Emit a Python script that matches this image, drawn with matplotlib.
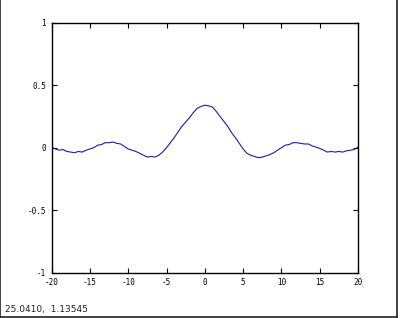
import matplotlib
matplotlib.use("Agg")
import matplotlib.pyplot as plt
from matplotlib.lines import Line2D

x_values = [-20, -19.5, -19, -18.5, -18, -17.5, -17, -16.5, -16, -15.5,
            -15, -14.5, -14, -13.5, -13, -12.5, -12, -11.5, -11, -10.5,
            -10, -9.5, -9, -8.5, -8, -7.5, -7, -6.5, -6, -5.5,
            -5, -4.5, -4, -3.5, -3, -2.5, -2, -1.5, -1, -0.5,
            0, 0.5, 1, 1.5, 2, 2.5, 3, 3.5, 4, 4.5,
            5, 5.5, 6, 6.5, 7, 7.5, 8, 8.5, 9, 9.5,
            10, 10.5, 11, 11.5, 12, 12.5, 13, 13.5, 14, 14.5,
            15, 15.5, 16, 16.5, 17, 17.5, 18, 18.5, 19, 19.5, 20]
y_values = [0.005, -0.01, -0.02, -0.015, -0.03, -0.035, -0.04, -0.03, -0.035, -0.02,
            -0.01, 0.0, 0.02, 0.025, 0.04, 0.04, 0.045, 0.035, 0.03, 0.01,
            -0.01, -0.02, -0.03, -0.045, -0.06, -0.075, -0.07, -0.075, -0.06, -0.035,
            0.0, 0.04, 0.08, 0.125, 0.17, 0.205, 0.24, 0.28, 0.315, 0.33,
            0.34, 0.335, 0.325, 0.29, 0.25, 0.21, 0.17, 0.12, 0.08, 0.035,
            -0.01, -0.045, -0.06, -0.07, -0.08, -0.075, -0.065, -0.055, -0.04, -0.02,
            0.0, 0.02, 0.025, 0.04, 0.04, 0.035, 0.03, 0.03, 0.015, 0.005,
            -0.005, -0.02, -0.035, -0.03, -0.035, -0.03, -0.035, -0.025, -0.02, -0.015, 0.005]

x_ticks = [-20, -15, -10, -5, 0, 5, 10, 15, 20]
x_tick_labels = ["-20", "-15", "-10", "-5", "0", "5", "10", "15", "20"]
y_ticks = [-1, -0.5, 0, 0.5, 1]
y_tick_labels = ["-1", "-0.5", "0", "0.5", "1"]
status_text = "25.0410,  1.13545"

fig = plt.figure(figsize=(4.0, 3.18), dpi=100)
ax = fig.add_axes([0.129, 0.1425, 0.766, 0.786])
ax.plot(x_values, y_values, color="#1c1ca8", linewidth=0.8)
ax.set_xlim(-20, 20)
ax.set_ylim(-1, 1)
ax.set_xticks(x_ticks)
ax.set_xticklabels(x_tick_labels)
ax.set_yticks(y_ticks)
ax.set_yticklabels(y_tick_labels)
ax.tick_params(direction="in", length=3.5, width=0.8, top=True, right=True,
               labelsize=5.5, pad=4, colors="black")
for lbl in ax.get_xticklabels() + ax.get_yticklabels():
    lbl.set_family("DejaVu Sans Mono")
for s in ax.spines.values():
    s.set_linewidth(1.0)

# window border
fig.add_artist(Line2D([0.0012, 0.0012], [0, 1], transform=fig.transFigure, color="#222222", linewidth=1.2))
fig.add_artist(Line2D([0.9915, 0.9915], [0, 1], transform=fig.transFigure, color="#222222", linewidth=1.2))
fig.add_artist(Line2D([0, 0.9915], [0.004, 0.004], transform=fig.transFigure, color="#222222", linewidth=1.2))

fig.text(0.012, 0.018, status_text, fontsize=6.5, family="DejaVu Sans", color="#222222",
         ha="left", va="baseline")

fig.savefig("out.png", dpi=100)
